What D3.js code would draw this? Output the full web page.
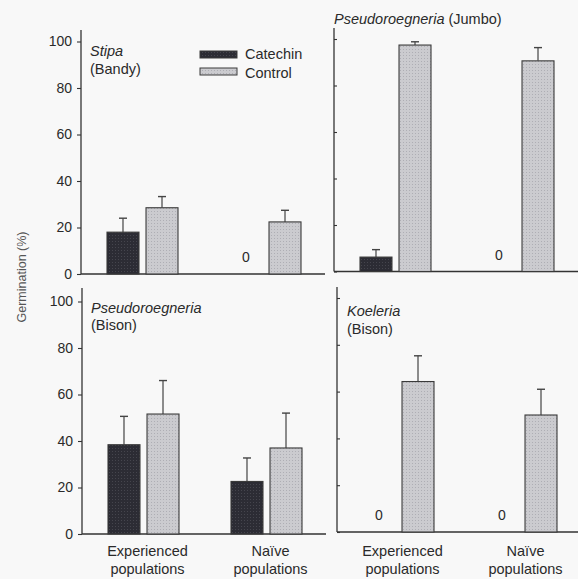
<!DOCTYPE html>
<html>
<head>
<meta charset="utf-8">
<script src="https://cdn.jsdelivr.net/npm/d3@7"></script>
<style>
  html, body { margin: 0; padding: 0; background: #f8f8f8; }
  svg { display: block; }
  text { font-family: "Liberation Sans", Arial, sans-serif; fill: #2a2a2a; }
</style>
</head>
<body>
<script>
'use strict';
// categories
var groups = ['Experienced populations', 'Naïve populations'];
var groupLines = [['Experienced', 'populations'], ['Naïve', 'populations']];
var treatments = ['Catechin', 'Control'];
var yTicks = [0, 20, 40, 60, 80, 100];

// germination means (%) and standard errors, [experienced, naive]
var stipaCatechin = [18, 0];
var stipaCatechinErr = [6, 0];
var stipaControl = [28.5, 22.4];
var stipaControlErr = [4.8, 5];

var jumboCatechin = [6.2, 0];
var jumboCatechinErr = [3.2, 0];
var jumboControl = [97.4, 90.6];
var jumboControlErr = [1.4, 5.7];

var bisonCatechin = [38.4, 22.6];
var bisonCatechinErr = [12.2, 10.1];
var bisonControl = [51.6, 37];
var bisonControlErr = [14.4, 15];

var koeleriaCatechin = [0, 0];
var koeleriaCatechinErr = [0, 0];
var koeleriaControl = [64.3, 50];
var koeleriaControlErr = [11, 11];

var W = 578, H = 579;
var svg = d3.select('body').append('svg').attr('width', W).attr('height', H);

// dotted screen-tone fills like the printed figure
var defs = svg.append('defs');
function tone(id, base, dot) {
    var p = defs.append('pattern').attr('id', id).attr('width', 3).attr('height', 3)
        .attr('patternUnits', 'userSpaceOnUse');
    p.append('rect').attr('width', 3).attr('height', 3).attr('fill', base);
    p.append('rect').attr('x', 1).attr('y', 1).attr('width', 1).attr('height', 1).attr('fill', dot);
}
tone('tone-dark', '#2c2c34', '#45454d');
tone('tone-light', '#cbcbcf', '#aeaeb4');
var fills = { Catechin: 'url(#tone-dark)', Control: 'url(#tone-light)' };

var panels = [
    { title: ['Stipa', '(Bandy)'], titleX: 9, titleY: [56, 74], oneLine: false,
      axisX: 81, base: 274, top: 41.5, right: 325, axisTop: 30, labels: true, xlabels: false,
      catechin: stipaCatechin, catechinErr: stipaCatechinErr, control: stipaControl, controlErr: stipaControlErr },
    { title: ['Pseudoroegneria', ' (Jumbo)'], titleX: 0, titleY: [24], oneLine: true,
      axisX: 334, base: 271.5, top: 39, right: 578, axisTop: 28, labels: false, xlabels: false,
      catechin: jumboCatechin, catechinErr: jumboCatechinErr, control: jumboControl, controlErr: jumboControlErr },
    { title: ['Pseudoroegneria', '(Bison)'], titleX: 9, titleY: [313, 330], oneLine: false,
      axisX: 82, base: 534, top: 301.5, right: 326, axisTop: 288, labels: true, xlabels: true,
      catechin: bisonCatechin, catechinErr: bisonCatechinErr, control: bisonControl, controlErr: bisonControlErr },
    { title: ['Koeleria', '(Bison)'], titleX: 10, titleY: [316, 334], oneLine: false,
      axisX: 337, base: 532, top: 298, right: 578, axisTop: 287, labels: false, xlabels: true,
      catechin: koeleriaCatechin, catechinErr: koeleriaCatechinErr, control: koeleriaControl, controlErr: koeleriaControlErr }
];

panels.forEach(function(p) {
    var g = svg.append('g');
    var y = d3.scaleLinear().domain([0, 100]).range([p.base, p.top]);
    var x = d3.scaleBand().domain(groups).range([p.axisX, p.axisX + 246]);
    var xs = d3.scaleBand().domain(treatments).range([26, 97]).paddingInner(0.18);

    // y axis
    g.append('line').attr('x1', p.axisX).attr('x2', p.axisX)
        .attr('y1', p.axisTop).attr('y2', p.base)
        .attr('stroke', '#333').attr('stroke-width', 1.3);
    var axis = p.labels ? d3.axisLeft(y).tickValues(yTicks).tickSize(4).tickPadding(5)
                        : d3.axisRight(y).tickValues(yTicks).tickSize(3).tickFormat('');
    var ag = g.append('g').attr('transform', 'translate(' + p.axisX + ',0)').call(axis);
    ag.select('.domain').remove();
    ag.selectAll('.tick line').attr('stroke', '#333').attr('stroke-width', 1.1);
    ag.selectAll('.tick text').attr('font-size', 14).attr('fill', '#2a2a2a')
        .attr('font-family', '"Liberation Sans", Arial, sans-serif');

    // baseline
    g.append('line').attr('x1', p.axisX).attr('x2', p.right)
        .attr('y1', p.base).attr('y2', p.base)
        .attr('stroke', '#333').attr('stroke-width', 1.3);

    // bars
    var rows = [];
    groups.forEach(function(grp, i) {
        rows.push({ group: grp, t: 'Catechin', v: p.catechin[i], e: p.catechinErr[i] });
        rows.push({ group: grp, t: 'Control', v: p.control[i], e: p.controlErr[i] });
    });
    var bars = rows.filter(function(d) { return d.v > 0; });
    var zeros = rows.filter(function(d) { return d.v === 0; });

    g.selectAll('line.err').data(bars).enter().append('line').attr('class', 'err')
        .attr('x1', function(d) { return x(d.group) + xs(d.t) + xs.bandwidth() / 2; })
        .attr('x2', function(d) { return x(d.group) + xs(d.t) + xs.bandwidth() / 2; })
        .attr('y1', function(d) { return y(d.v); })
        .attr('y2', function(d) { return y(d.v + d.e); })
        .attr('stroke', '#444').attr('stroke-width', 1.2);
    g.selectAll('line.cap').data(bars).enter().append('line').attr('class', 'cap')
        .attr('x1', function(d) { return x(d.group) + xs(d.t) + xs.bandwidth() / 2 - 4; })
        .attr('x2', function(d) { return x(d.group) + xs(d.t) + xs.bandwidth() / 2 + 4; })
        .attr('y1', function(d) { return y(d.v + d.e); })
        .attr('y2', function(d) { return y(d.v + d.e); })
        .attr('stroke', '#444').attr('stroke-width', 1.4);

    g.selectAll('rect.bar').data(bars).enter().append('rect').attr('class', 'bar')
        .attr('x', function(d) { return x(d.group) + xs(d.t); })
        .attr('y', function(d) { return y(d.v); })
        .attr('width', xs.bandwidth())
        .attr('height', function(d) { return y(0) - y(d.v); })
        .attr('fill', function(d) { return fills[d.t]; })
        .attr('stroke', '#3a3a3a').attr('stroke-width', 1.1);

    g.selectAll('text.zero').data(zeros).enter().append('text').attr('class', 'zero')
        .attr('x', function(d) { return x(d.group) + xs(d.t) + xs.bandwidth() / 2; })
        .attr('y', p.base - 12)
        .attr('text-anchor', 'middle').attr('font-size', 14)
        .text('0');

    // panel title
    var t = g.append('text').attr('x', p.axisX + p.titleX).attr('font-size', 14.5);
    if (p.oneLine) {
        t.attr('y', p.titleY[0]);
        t.append('tspan').attr('font-style', 'italic').text(p.title[0]);
        t.append('tspan').text(p.title[1]);
    } else {
        t.attr('y', p.titleY[0]).attr('font-style', 'italic').text(p.title[0]);
        g.append('text').attr('x', p.axisX + p.titleX).attr('y', p.titleY[1])
            .attr('font-size', 14.5).text(p.title[1]);
    }

    // x category labels
    if (p.xlabels) {
        groups.forEach(function(grp, i) {
            var lt = g.append('text').attr('text-anchor', 'middle').attr('font-size', 14.5)
                .attr('transform', 'translate(' + (x(grp) + x.bandwidth() / 2 + 4) + ',0)');
            lt.append('tspan').attr('x', 0).attr('y', 556).text(groupLines[i][0]);
            lt.append('tspan').attr('x', 0).attr('y', 574).text(groupLines[i][1]);
        });
    }
});

// legend
var legend = svg.append('g');
treatments.forEach(function(tr, i) {
    legend.append('rect').attr('x', 200).attr('y', 51 + i * 17).attr('width', 37).attr('height', 7)
        .attr('fill', fills[tr]).attr('stroke', '#3a3a3a').attr('stroke-width', 1);
    legend.append('text').attr('x', 245).attr('y', 59 + i * 18.5).attr('font-size', 14.5).text(tr);
});

// shared y axis title
svg.append('text').attr('transform', 'translate(26,277) rotate(-90)')
    .attr('text-anchor', 'middle').attr('font-size', 12.5).style('fill', '#555')
    .text('Germination (%)');
</script>
</body>
</html>
